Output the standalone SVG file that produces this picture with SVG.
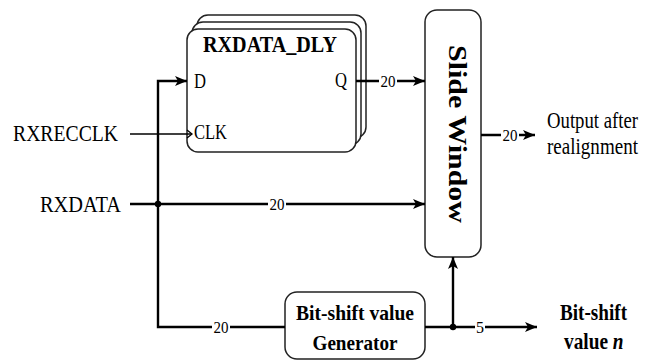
<svg xmlns="http://www.w3.org/2000/svg" width="658" height="361" viewBox="0 0 658 361">
  <style>
    .box { fill: #ffffff; stroke: #222222; stroke-width: 1.5; }
    .wire { fill: none; stroke: #000000; stroke-width: 2.4; }
    .thin { fill: none; stroke: #000000; stroke-width: 1.3; }
    .t { font-family: "Liberation Serif", "Times New Roman", serif; fill: #000000; }
    .lbl { font-size: 23px; }
    .bus { font-size: 17px; }
    .bold { font-weight: bold; }
    .dot { fill: #000000; }
  </style>
  <defs>
    <marker id="arrow" viewBox="0 0 12 10" refX="12" refY="5" markerWidth="12" markerHeight="10" markerUnits="userSpaceOnUse" orient="auto">
      <path d="M0,0 L12,5 L0,10 L3,5 Z" fill="#000000"/>
    </marker>
  </defs>

  <rect width="658" height="361" fill="#ffffff"/>

  <!-- stacked delay registers -->
  <g id="rxdata_dly">
    <rect class="box" x="197" y="15" width="169" height="123" rx="11"/>
    <rect class="box" x="192" y="22" width="169" height="123" rx="11"/>
    <rect class="box" x="187" y="29" width="169" height="123" rx="11"/>
    <text class="t bold" x="270" y="52" font-size="23" text-anchor="middle" textLength="134" lengthAdjust="spacingAndGlyphs">RXDATA_DLY</text>
    <text class="t" x="194" y="88" font-size="20" textLength="12" lengthAdjust="spacingAndGlyphs">D</text>
    <text class="t" x="335" y="87" font-size="20" textLength="12" lengthAdjust="spacingAndGlyphs">Q</text>
    <text class="t" x="194" y="139" font-size="20" textLength="33" lengthAdjust="spacingAndGlyphs">CLK</text>
    <polyline class="thin" points="187,130 192,134 187,138"/>
  </g>

  <!-- slide window -->
  <g id="slide_window">
    <rect class="box" x="425" y="10" width="56" height="247" rx="12"/>
    <text class="t bold" transform="translate(449,134) rotate(90)" x="0" y="0" font-size="25" text-anchor="middle" textLength="178" lengthAdjust="spacingAndGlyphs">Slide Window</text>
  </g>

  <!-- shift value generator -->
  <g id="bitshift_gen">
    <rect class="box" x="285" y="292" width="140" height="67" rx="12"/>
    <text class="t bold" x="355" y="320" font-size="21" text-anchor="middle" textLength="118" lengthAdjust="spacingAndGlyphs">Bit-shift value</text>
    <text class="t bold" x="355" y="350" font-size="21" text-anchor="middle" textLength="85" lengthAdjust="spacingAndGlyphs">Generator</text>
  </g>

  <!-- input / output labels -->
  <g id="rxrecclk">
    <text class="t lbl" x="13" y="141" textLength="105" lengthAdjust="spacingAndGlyphs">RXRECCLK</text>
  </g>
  <g id="rxdata">
    <text class="t lbl" x="40" y="212" textLength="81" lengthAdjust="spacingAndGlyphs">RXDATA</text>
  </g>
  <g id="output">
    <text class="t lbl" x="547" y="128" textLength="91" lengthAdjust="spacingAndGlyphs">Output after</text>
    <text class="t lbl" x="547" y="154" textLength="91" lengthAdjust="spacingAndGlyphs">realignment</text>
  </g>
  <g id="bitshift_out">
    <text class="t bold" x="560" y="320" font-size="23" textLength="67" lengthAdjust="spacingAndGlyphs">Bit-shift</text>
    <text class="t bold" transform="translate(564,349) scale(0.84,1)" x="0" y="0" font-size="23">value <tspan font-style="italic">n</tspan></text>
  </g>

  <!-- connectors -->
  <g id="connectors">
    <!-- clock -->
    <line class="thin" x1="130" y1="134" x2="192" y2="134"/>
    <!-- RXDATA bus and branch to D / generator -->
    <line class="wire" x1="130" y1="204" x2="425" y2="204" marker-end="url(#arrow)"/>
    <polyline class="wire" points="285,327 158,327 158,81 187,81" marker-end="url(#arrow)"/>
    <circle class="dot" cx="158" cy="204" r="3.2"/>
    <!-- Q to slide window -->
    <line class="wire" x1="356" y1="81" x2="425" y2="81" marker-end="url(#arrow)"/>
    <!-- slide window output -->
    <line class="wire" x1="481" y1="135" x2="535" y2="135" marker-end="url(#arrow)"/>
    <!-- shift value out and feedback to slide window -->
    <line class="wire" x1="425" y1="327" x2="537" y2="327" marker-end="url(#arrow)"/>
    <line class="wire" x1="453" y1="327" x2="453" y2="257" marker-end="url(#arrow)"/>
    <circle class="dot" cx="453" cy="327" r="3.2"/>

    <!-- bus width labels -->
    <g class="t bus" text-anchor="middle">
      <rect x="379" y="73" width="18" height="16" fill="#ffffff"/>
      <text x="388" y="87" textLength="15" lengthAdjust="spacingAndGlyphs">20</text>
      <rect x="268" y="196" width="18" height="16" fill="#ffffff"/>
      <text x="277" y="210" textLength="15" lengthAdjust="spacingAndGlyphs">20</text>
      <rect x="501" y="127" width="18" height="16" fill="#ffffff"/>
      <text x="510" y="141" textLength="15" lengthAdjust="spacingAndGlyphs">20</text>
      <rect x="212" y="319" width="18" height="16" fill="#ffffff"/>
      <text x="221" y="333" textLength="15" lengthAdjust="spacingAndGlyphs">20</text>
      <rect x="475" y="319" width="10" height="16" fill="#ffffff"/>
      <text x="480" y="333" textLength="8" lengthAdjust="spacingAndGlyphs">5</text>
    </g>
  </g>
</svg>
